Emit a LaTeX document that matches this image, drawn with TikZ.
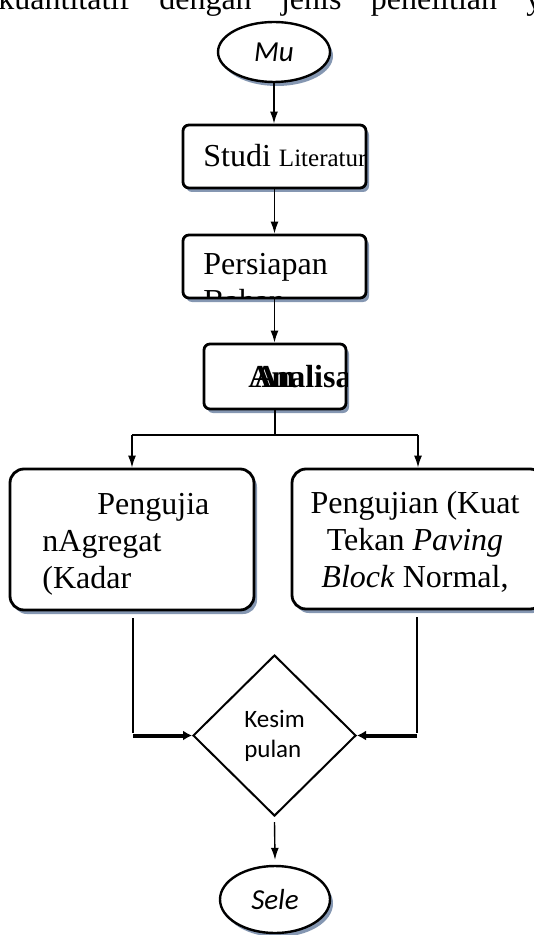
\documentclass[tikz,border=0pt]{standalone}
\usepackage{fontspec}
\setmainfont{Liberation Serif}
\newfontfamily\calibri{Carlito}
\usetikzlibrary{shapes.geometric, shadows, arrows.meta}

\definecolor{shadowblue}{RGB}{133,151,178}

\tikzset{
  boxshadow/.style={drop shadow={shadow xshift=1.5pt, shadow yshift=-2pt, fill=shadowblue, opacity=1}},
  proc/.style={draw, line width=1.4pt, rounded corners=3pt, fill=white, boxshadow, inner sep=0},
  term/.style={draw, ellipse, line width=1.2pt, fill=white, boxshadow, inner sep=0, font=\calibri\itshape\fontsize{14.5}{17}\selectfont},
  flow/.style={->, line width=0.7pt, >={Latex[length=6pt,width=4pt]}},
  joinline/.style={->, line width=2pt, >={Latex[length=4.5pt,width=5pt]}},
  boxtext/.style={inner sep=0, font=\fontsize{16}{18.5}\selectfont},
}

\begin{document}
\begin{tikzpicture}[x=0.5pt, y=-0.5pt]
\clip (0,0) rectangle (534,935);
\node[boxtext, anchor=base west] (intro) at (-2,10) {\makebox[272pt][s]{kuantitatif dengan jenis penelitian y}};

\node[term, minimum width=56pt, minimum height=30pt] (mu) at (274,52) {Mu};
\node[proc, minimum width=91.5pt, minimum height=31.5pt] (studi) at (274.5,156.5) {};
\node[proc, minimum width=91.5pt, minimum height=31.5pt] (persiapan) at (274.5,266.5) {};
\node[proc, minimum width=71pt, minimum height=32.5pt] (analisa) at (275,376.5) {};
\node[proc, rounded corners=7pt, minimum width=122pt, minimum height=70.5pt] (agregat) at (132,539.5) {};
\node[proc, rounded corners=7pt, minimum width=126pt, minimum height=70pt] (kuat) at (418,539) {};
\node[draw, diamond, line width=1pt, minimum width=81.5pt, minimum height=80.5pt, inner sep=0, align=left, font=\calibri\fontsize{12.5}{15}\selectfont] (kesim) at (274.5,735.5) {Kesim\\pulan};
\node[term, minimum width=55pt, minimum height=33.5pt] (sele) at (275,899.5) {Sele};

% box texts
\begin{scope}
\clip (studi.south west) rectangle (studi.north east);
\node[boxtext, anchor=base west] (studitxt) at (203,167) {Studi {\fontsize{12.5}{15}\selectfont Literatur}};
\end{scope}
\begin{scope}
\clip ([yshift=0.7pt]persiapan.south west) rectangle (persiapan.north east);
\node[boxtext, anchor=base west, align=left] (persiapantxt) at (203,312) {Persiapan\\Bahan};
\end{scope}
\begin{scope}
\clip (analisa.south west) rectangle (analisa.north east);
\node[boxtext, anchor=base west, font=\bfseries\fontsize{16}{18.5}\selectfont] (analisatxt) at (248,387) {Analisa};
\node[boxtext, anchor=base west, font=\bfseries\fontsize{16}{18.5}\selectfont] (analisaecho) at (254,387) {An};
\end{scope}
\node[boxtext, anchor=base west, align=left] (agregattxt) at (42,588) {\hspace*{27.5pt}Pengujia\\nAgregat\\(Kadar};
\node[boxtext, anchor=base, align=center] (kuattxt) at (415,587) {Pengujian (Kuat\\Tekan \textit{Paving}\\\textit{Block} Normal,};

% arrows
\coordinate (split) at (275,435);
\coordinate (lcorner) at (133,735.5);
\coordinate (rcorner) at (417,735.5);
\draw[flow] (mu.south) -- (mu.south |- studi.north);
\draw[flow] (studi.south) -- (studi.south |- persiapan.north);
\draw[flow] (persiapan.south) -- (persiapan.south |- analisa.north);
\draw[line width=1.2pt] (analisa.south) -- (split);
\draw[line width=1.2pt] (split -| agregat.north) -- (split -| kuat.north);
\draw[flow] (split -| agregat.north) -- (agregat.north);
\draw[flow] (split -| kuat.north) -- (kuat.north);
\draw[line width=1pt] ([yshift=-3.5pt]agregat.south -| lcorner) -- ([yshift=1.5pt]lcorner);
\draw[line width=1pt] ([yshift=-3.5pt]kuat.south -| rcorner) -- ([yshift=1.5pt]rcorner);
\draw[joinline] (lcorner) -- (kesim.west);
\draw[joinline] (rcorner) -- (kesim.east);
\draw[flow] ([yshift=-2.5pt]kesim.south) -- ([yshift=2.5pt]sele.north);
\end{tikzpicture}
\end{document}
